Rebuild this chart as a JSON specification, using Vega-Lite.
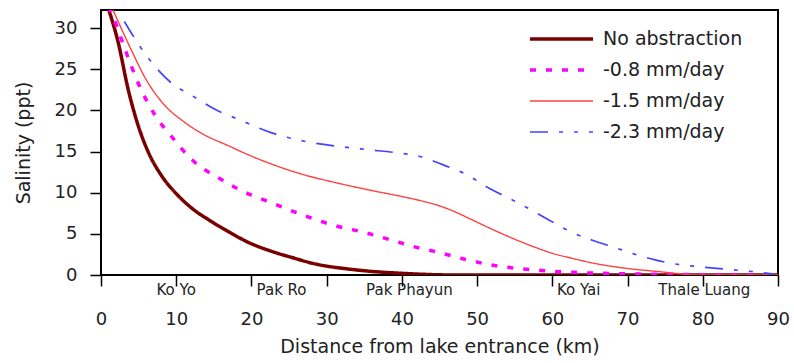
{
  "$schema": "https://vega.github.io/schema/vega-lite/v6.json",
  "width": 677,
  "height": 265,
  "autosize": {"type": "none"},
  "padding": {"left": 101, "top": 10, "right": 16, "bottom": 88},
  "background": "white",
  "config": {
    "view": {"stroke": "black", "strokeWidth": 2},
    "font": "DejaVu Sans",
    "legend": {
      "orient": "none",
      "legendX": 427,
      "legendY": 13.5,
      "padding": 0,
      "symbolType": "stroke",
      "symbolSize": 3969,
      "clipHeight": 31,
      "rowPadding": 0,
      "labelOffset": 8,
      "labelFontSize": 19,
      "labelColor": "#222",
      "labelLimit": 300
    }
  },
  "datasets": {
    "curves": [
      {"d": 0.9, "s": 32.6, "series": "No abstraction"},
      {"d": 2.3, "s": 28.2, "series": "No abstraction"},
      {"d": 3.6, "s": 22.6, "series": "No abstraction"},
      {"d": 5.0, "s": 18.0, "series": "No abstraction"},
      {"d": 6.3, "s": 14.9, "series": "No abstraction"},
      {"d": 8.1, "s": 12.0, "series": "No abstraction"},
      {"d": 10.3, "s": 9.6, "series": "No abstraction"},
      {"d": 12.1, "s": 8.1, "series": "No abstraction"},
      {"d": 14.5, "s": 6.6, "series": "No abstraction"},
      {"d": 16.9, "s": 5.3, "series": "No abstraction"},
      {"d": 19.5, "s": 4.0, "series": "No abstraction"},
      {"d": 22.6, "s": 2.9, "series": "No abstraction"},
      {"d": 25.1, "s": 2.2, "series": "No abstraction"},
      {"d": 28.7, "s": 1.3, "series": "No abstraction"},
      {"d": 32.7, "s": 0.75, "series": "No abstraction"},
      {"d": 35.8, "s": 0.45, "series": "No abstraction"},
      {"d": 40.1, "s": 0.2, "series": "No abstraction"},
      {"d": 43, "s": 0.08, "series": "No abstraction"},
      {"d": 47, "s": 0, "series": "No abstraction"},
      {"d": 90, "s": 0, "series": "No abstraction"},
      {"d": 1.0, "s": 32.6, "series": "-0.8 mm/day"},
      {"d": 1.6, "s": 31.4, "series": "-0.8 mm/day"},
      {"d": 3.2, "s": 27.4, "series": "-0.8 mm/day"},
      {"d": 5.0, "s": 23.2, "series": "-0.8 mm/day"},
      {"d": 7.2, "s": 19.4, "series": "-0.8 mm/day"},
      {"d": 9.4, "s": 16.8, "series": "-0.8 mm/day"},
      {"d": 12.1, "s": 14.0, "series": "-0.8 mm/day"},
      {"d": 16.0, "s": 11.6, "series": "-0.8 mm/day"},
      {"d": 20.0, "s": 9.7, "series": "-0.8 mm/day"},
      {"d": 22.6, "s": 8.8, "series": "-0.8 mm/day"},
      {"d": 26.5, "s": 7.4, "series": "-0.8 mm/day"},
      {"d": 30.7, "s": 6.1, "series": "-0.8 mm/day"},
      {"d": 35.3, "s": 5.1, "series": "-0.8 mm/day"},
      {"d": 39.3, "s": 4.05, "series": "-0.8 mm/day"},
      {"d": 42.4, "s": 3.25, "series": "-0.8 mm/day"},
      {"d": 44.2, "s": 2.9, "series": "-0.8 mm/day"},
      {"d": 48.2, "s": 1.95, "series": "-0.8 mm/day"},
      {"d": 51.7, "s": 1.25, "series": "-0.8 mm/day"},
      {"d": 56.6, "s": 0.7, "series": "-0.8 mm/day"},
      {"d": 62.8, "s": 0.32, "series": "-0.8 mm/day"},
      {"d": 70, "s": 0.14, "series": "-0.8 mm/day"},
      {"d": 78, "s": 0.05, "series": "-0.8 mm/day"},
      {"d": 90, "s": 0, "series": "-0.8 mm/day"},
      {"d": 1.4, "s": 32.6, "series": "-1.5 mm/day"},
      {"d": 4.0, "s": 27.4, "series": "-1.5 mm/day"},
      {"d": 5.9, "s": 23.9, "series": "-1.5 mm/day"},
      {"d": 8.1, "s": 21.0, "series": "-1.5 mm/day"},
      {"d": 11.2, "s": 18.5, "series": "-1.5 mm/day"},
      {"d": 13.8, "s": 17.0, "series": "-1.5 mm/day"},
      {"d": 16.7, "s": 15.8, "series": "-1.5 mm/day"},
      {"d": 19.6, "s": 14.6, "series": "-1.5 mm/day"},
      {"d": 22.6, "s": 13.5, "series": "-1.5 mm/day"},
      {"d": 26.9, "s": 12.2, "series": "-1.5 mm/day"},
      {"d": 31.3, "s": 11.2, "series": "-1.5 mm/day"},
      {"d": 35.8, "s": 10.3, "series": "-1.5 mm/day"},
      {"d": 40.2, "s": 9.5, "series": "-1.5 mm/day"},
      {"d": 42.4, "s": 9.05, "series": "-1.5 mm/day"},
      {"d": 44.5, "s": 8.55, "series": "-1.5 mm/day"},
      {"d": 46.6, "s": 7.85, "series": "-1.5 mm/day"},
      {"d": 49.0, "s": 6.85, "series": "-1.5 mm/day"},
      {"d": 51.3, "s": 5.85, "series": "-1.5 mm/day"},
      {"d": 54.6, "s": 4.5, "series": "-1.5 mm/day"},
      {"d": 57.9, "s": 3.3, "series": "-1.5 mm/day"},
      {"d": 60.5, "s": 2.5, "series": "-1.5 mm/day"},
      {"d": 62.3, "s": 2.1, "series": "-1.5 mm/day"},
      {"d": 65.4, "s": 1.45, "series": "-1.5 mm/day"},
      {"d": 69.9, "s": 0.8, "series": "-1.5 mm/day"},
      {"d": 74.3, "s": 0.4, "series": "-1.5 mm/day"},
      {"d": 77, "s": 0.15, "series": "-1.5 mm/day"},
      {"d": 80, "s": 0, "series": "-1.5 mm/day"},
      {"d": 90, "s": 0, "series": "-1.5 mm/day"},
      {"d": 3.1, "s": 30.8, "series": "-2.3 mm/day"},
      {"d": 6.0, "s": 26.7, "series": "-2.3 mm/day"},
      {"d": 9.4, "s": 23.3, "series": "-2.3 mm/day"},
      {"d": 12.1, "s": 21.8, "series": "-2.3 mm/day"},
      {"d": 15.2, "s": 20.1, "series": "-2.3 mm/day"},
      {"d": 18.3, "s": 18.9, "series": "-2.3 mm/day"},
      {"d": 22.6, "s": 17.3, "series": "-2.3 mm/day"},
      {"d": 27.3, "s": 16.2, "series": "-2.3 mm/day"},
      {"d": 31.8, "s": 15.6, "series": "-2.3 mm/day"},
      {"d": 35.8, "s": 15.2, "series": "-2.3 mm/day"},
      {"d": 38.9, "s": 14.9, "series": "-2.3 mm/day"},
      {"d": 42.4, "s": 14.4, "series": "-2.3 mm/day"},
      {"d": 46.0, "s": 13.2, "series": "-2.3 mm/day"},
      {"d": 48.6, "s": 12.2, "series": "-2.3 mm/day"},
      {"d": 51.3, "s": 10.7, "series": "-2.3 mm/day"},
      {"d": 55.6, "s": 8.7, "series": "-2.3 mm/day"},
      {"d": 60.1, "s": 6.4, "series": "-2.3 mm/day"},
      {"d": 62.8, "s": 5.1, "series": "-2.3 mm/day"},
      {"d": 65.4, "s": 4.2, "series": "-2.3 mm/day"},
      {"d": 68.1, "s": 3.4, "series": "-2.3 mm/day"},
      {"d": 70.7, "s": 2.6, "series": "-2.3 mm/day"},
      {"d": 73.4, "s": 1.9, "series": "-2.3 mm/day"},
      {"d": 75.6, "s": 1.45, "series": "-2.3 mm/day"},
      {"d": 79.6, "s": 1.0, "series": "-2.3 mm/day"},
      {"d": 83.2, "s": 0.7, "series": "-2.3 mm/day"},
      {"d": 86.7, "s": 0.4, "series": "-2.3 mm/day"},
      {"d": 89.5, "s": 0.1, "series": "-2.3 mm/day"}
    ],
    "places": [
      {"d": 10, "name": "Ko Yo"},
      {"d": 24, "name": "Pak Ro"},
      {"d": 41, "name": "Pak Phayun"},
      {"d": 63.5, "name": "Ko Yai"},
      {"d": 80.2, "name": "Thale Luang"}
    ]
  },
  "layer": [
    {
      "data": {"name": "curves"},
      "mark": {"type": "line", "interpolate": "monotone", "clip": true},
      "encoding": {
        "x": {
          "field": "d",
          "type": "quantitative",
          "scale": {"domain": [0, 90], "nice": false},
          "axis": {
            "values": [0, 10, 20, 30, 40, 50, 60, 70, 80, 90],
            "grid": false,
            "domain": false,
            "tickSize": 11,
            "tickColor": "black",
            "tickWidth": 1.5,
            "labelFontSize": 18,
            "labelPadding": 24,
            "labelColor": "#222",
            "labelFlush": false,
            "labelOverlap": false,
            "title": "Distance from lake entrance (km)",
            "titleFontSize": 19,
            "titleFontWeight": "normal",
            "titleColor": "#222",
            "titlePadding": 9
          }
        },
        "y": {
          "field": "s",
          "type": "quantitative",
          "scale": {"domain": [0, 32.2], "nice": false},
          "axis": {
            "values": [0, 5, 10, 15, 20, 25, 30],
            "grid": false,
            "domain": false,
            "tickSize": 11,
            "tickColor": "black",
            "tickWidth": 1.5,
            "labelFontSize": 18,
            "labelPadding": 13,
            "labelColor": "#222",
            "labelFlush": false,
            "labelOverlap": false,
            "title": "Salinity (ppt)",
            "titleFontSize": 19,
            "titleFontWeight": "normal",
            "titleColor": "#222",
            "titlePadding": 21
          }
        },
        "color": {
          "field": "series",
          "type": "nominal",
          "sort": null,
          "title": null,
          "scale": {
            "domain": ["No abstraction", "-0.8 mm/day", "-1.5 mm/day", "-2.3 mm/day"],
            "range": ["#7a0000", "#ff00ff", "#ff4040", "#4444ff"]
          }
        },
        "strokeDash": {
          "field": "series",
          "type": "nominal",
          "sort": null,
          "title": null,
          "scale": {
            "domain": ["No abstraction", "-0.8 mm/day", "-1.5 mm/day", "-2.3 mm/day"],
            "range": [[1, 0], [6, 10], [1, 0], [18, 11, 4, 11, 4, 11]]
          }
        },
        "strokeWidth": {
          "field": "series",
          "type": "nominal",
          "sort": null,
          "title": null,
          "scale": {
            "type": "ordinal",
            "domain": ["No abstraction", "-0.8 mm/day", "-1.5 mm/day", "-2.3 mm/day"],
            "range": [3.5, 3.5, 1.4, 1.7]
          }
        }
      }
    },
    {
      "data": {"name": "places"},
      "mark": {"type": "text", "baseline": "middle", "align": "center", "fontSize": 15, "fill": "#222", "clip": false},
      "encoding": {
        "x": {"field": "d", "type": "quantitative"},
        "y": {"datum": -1.82, "type": "quantitative"},
        "text": {"field": "name", "type": "nominal"}
      }
    }
  ]
}
